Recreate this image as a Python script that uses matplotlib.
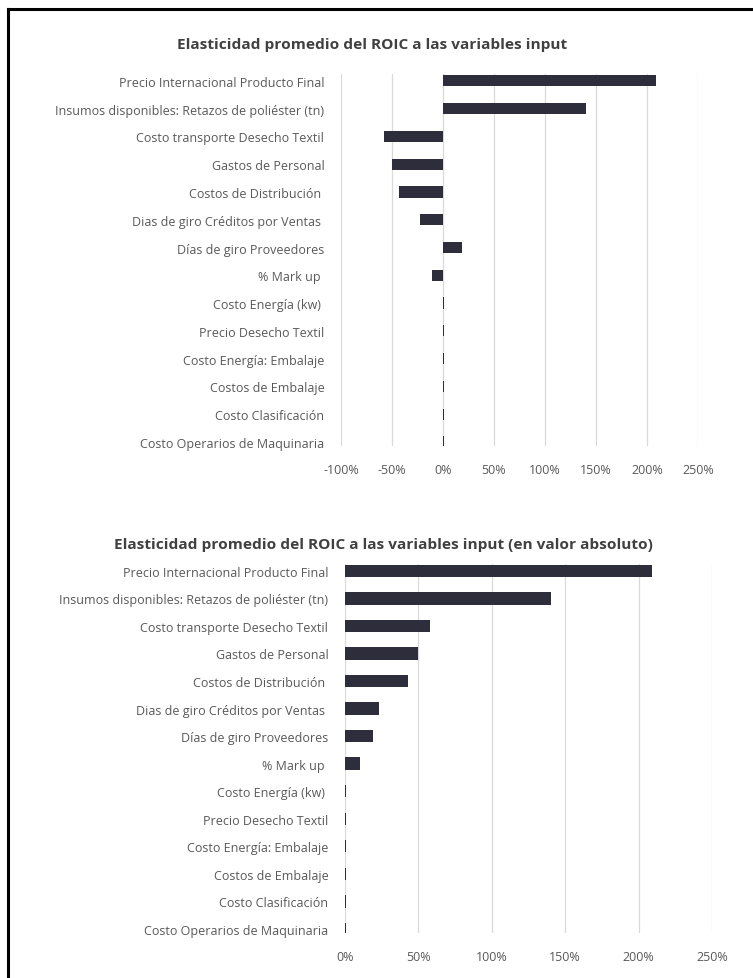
import matplotlib.pyplot as plt
from matplotlib.ticker import FuncFormatter
import numpy as np

variables = [
    "Precio Internacional Producto Final",
    "Insumos disponibles: Retazos de poliéster (tn)",
    "Costo transporte Desecho Textil",
    "Gastos de Personal",
    "Costos de Distribución ",
    "Dias de giro Créditos por Ventas ",
    "Días de giro Proveedores",
    "% Mark up ",
    "Costo Energía (kw) ",
    "Precio Desecho Textil",
    "Costo Energía: Embalaje",
    "Costos de Embalaje",
    "Costo Clasificación",
    "Costo Operarios de Maquinaria",
]
# elasticidad promedio (%)
elasticidad = [209, 140, -58, -50, -43, -23, 19, -10.5, 1.0, 0.9, 0.9, 0.9, 0.9, 0.8]
elasticidad_abs = [abs(v) for v in elasticidad]

titles = ["Elasticidad promedio del ROIC a las variables input",
          "Elasticidad promedio del ROIC a las variables input (en valor absoluto)"]

plt.rcParams['font.family'] = ['Open Sans', 'DejaVu Sans']
W, H = 753, 979
fig = plt.figure(figsize=(W / 100, H / 100), dpi=100)

bar_col = '#2d2d3b'
txt_col = '#595959'
grid_col = '#d9d9d9'


def px_axes(x0, y0, x1, y1):
    return fig.add_axes([x0 / W, 1 - y1 / H, (x1 - x0) / W, (y1 - y0) / H])


def draw(ax, vals, xmin, xmax, bar_h):
    y = np.arange(len(variables))
    ax.barh(y, vals, height=bar_h, color=bar_col, zorder=3)
    ax.set_xlim(xmin, xmax)
    ax.set_ylim(13.15, -0.25)
    ax.set_xticks(np.arange(xmin, xmax + 1, 50))
    ax.xaxis.set_major_formatter(FuncFormatter(lambda v, p: f"{v:.0f}%"))
    ax.set_yticks(y)
    ax.set_yticklabels(variables)
    ax.grid(axis='x', color=grid_col, linewidth=0.9, zorder=0)
    ax.tick_params(length=0, colors=txt_col, labelsize=9)
    ax.tick_params(axis='y', pad=12)
    ax.tick_params(axis='x', pad=12)
    for s in ax.spines.values():
        s.set_visible(False)


ax1 = px_axes(341, 75, 698, 447)
draw(ax1, elasticidad, -100, 250, 0.4)
ax2 = px_axes(345, 565, 712, 934)
draw(ax2, elasticidad_abs, 0, 250, 0.45)

fig.text(372 / W, 1 - 45 / H, titles[0], ha='center', va='center',
         fontsize=11.1, fontweight='bold', color='#404040')
fig.text(383 / W, 1 - 545 / H, titles[1], ha='center', va='center',
         fontsize=11.1, fontweight='bold', color='#404040')

# marco
fig.add_artist(plt.Line2D([8 / W, 8 / W], [0, 1 - 10 / H], color='black', linewidth=2.2))
fig.add_artist(plt.Line2D([8 / W, 1], [1 - 10 / H, 1 - 10 / H], color='black', linewidth=2.2))

fig.savefig('out.png', dpi=100)
